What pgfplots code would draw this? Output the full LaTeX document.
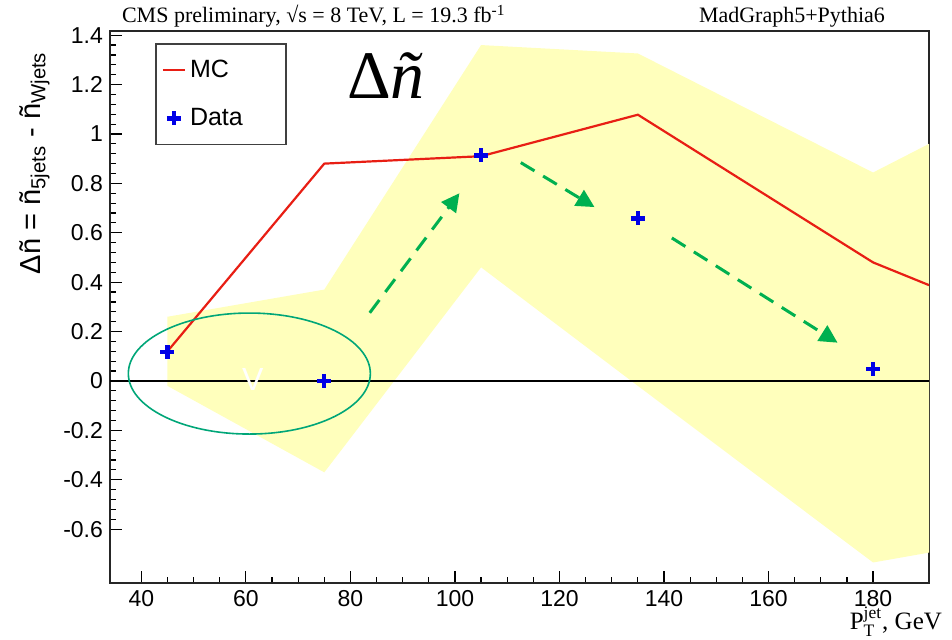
\documentclass[border=0pt]{standalone}
\usepackage{fontspec}
\setmainfont{Liberation Serif}
\setsansfont{Liberation Sans}
\usepackage{pgfplots}
\pgfplotsset{compat=1.18}
\usetikzlibrary{arrows.meta}
\definecolor{bandyellow}{RGB}{255,255,188}
\definecolor{mcred}{RGB}{232,30,20}
\definecolor{datablue}{RGB}{0,0,230}
\definecolor{arrgreen}{RGB}{0,176,80}
\definecolor{ellgreen}{RGB}{0,166,120}
\begin{document}
\begin{tikzpicture}
\useasboundingbox (-55pt,-28.5pt) rectangle (421pt,291.5pt);
\begin{axis}[
  scale only axis, width=409.5pt, height=276pt,
  xmin=34, xmax=190.7, ymin=-0.818, ymax=1.417,
  axis line style={line width=0.75pt, black!85},
  xtick={40,60,80,100,120,140,160,180},
  ytick={-0.6,-0.4,-0.2,0,0.2,0.4,0.6,0.8,1,1.2,1.4},
  minor x tick num=3, minor y tick num=4,
  tick align=inside, xtick pos=bottom, ytick pos=left,
  major tick length=6pt, minor tick length=3pt,
  tick style={line width=0.6pt, black},
  ticklabel style={font=\sffamily\fontsize{11.5}{12}\selectfont},
  /pgf/number format/assume math mode=true,
  xlabel={$\mathrm{P}_{\mathrm{T}}^{\mathrm{jet}}$, GeV},
  xlabel style={at={(rel axis cs:1,0)}, anchor=base east, yshift=-23.5pt, xshift=10pt, font=\fontsize{12.5}{13}\selectfont},
  ylabel={\sffamily Δñ = ñ\textsubscript{5jets} - ñ\textsubscript{Wjets}},
  ylabel style={at={(rel axis cs:-0.092,0.975)}, anchor=east, font=\fontsize{14.5}{15}\selectfont},
  legend style={at={(rel axis cs:0.055,0.978)}, anchor=north west, draw=black!75, line width=0.8pt,
    font=\sffamily\fontsize{12.5}{14}\selectfont, row sep=10pt, inner xsep=3pt, inner ysep=6pt},
  legend cell align=left,
]
% uncertainty band
\addplot[fill=bandyellow, draw=none, forget plot] coordinates {
  (45,0.26) (75,0.37) (105,1.36) (135,1.326) (180,0.844) (190.7,0.96)
  (190.7,-0.695) (180,-0.735) (135,-0.02) (105,0.46) (75,-0.37) (45,-0.02)
} -- cycle;
% zero line
\addplot[black, line width=0.7pt, forget plot] coordinates {(34,0) (190.7,0)};
% MC
\addplot[mcred, line width=1.1pt,
  legend image code/.code={\draw[mcred, line width=1.1pt] (0pt,0pt) -- (11pt,0pt);}] coordinates {
  (45,0.12) (75,0.88) (105,0.91) (135,1.078) (180,0.48) (190.7,0.388)
};
\addlegendentry{\makebox[43pt][l]{MC}}
% Data
\addplot[only marks, mark=+, mark size=3.5pt, datablue, line width=2.2pt,
  legend image code/.code={\draw[datablue, line width=2.2pt] plot[mark=+, mark size=3.5pt] coordinates {(5.5pt,0pt)};}] coordinates {
  (45,0.117) (75,0.0) (105,0.913) (135,0.658) (180,0.048)
};
\addlegendentry{\makebox[43pt][l]{Data}}
% annotations
\draw[ellgreen, line width=0.8pt] (axis cs:60.66,0.030) ellipse [x radius=60.5pt, y radius=30.25pt];
\node[white, font=\sffamily\fontsize{16}{16}\selectfont] at (axis cs:61.3,0.004) {V};
\draw[arrgreen, line width=1.5pt, dash pattern=on 8pt off 5pt, -{Triangle[length=9pt,width=9pt]}]
  (axis cs:83.7,0.276) -- (axis cs:100.85,0.760);
\draw[arrgreen, line width=1.5pt, dash pattern=on 8pt off 5pt, -{Triangle[length=9pt,width=9pt]}]
  (axis cs:112.6,0.884) -- (axis cs:126.7,0.704);
\draw[arrgreen, line width=1.5pt, dash pattern=on 8pt off 5pt, -{Triangle[length=9pt,width=9pt]}]
  (axis cs:141.5,0.579) -- (axis cs:173.2,0.155);
\node[font=\fontsize{34}{36}\selectfont] at (axis cs:86.8,1.235) {Δ\textit{ñ}};
\end{axis}
\node[anchor=base west, font=\fontsize{11}{12}\selectfont] at (2.5pt,280pt)
  {CMS preliminary, {\char"221A}s = 8 TeV, L = 19.3 fb\textsuperscript{-1}};
\node[anchor=base east, font=\fontsize{11}{12}\selectfont] at (391pt,280pt) {MadGraph5+Pythia6};
\end{tikzpicture}
\end{document}
